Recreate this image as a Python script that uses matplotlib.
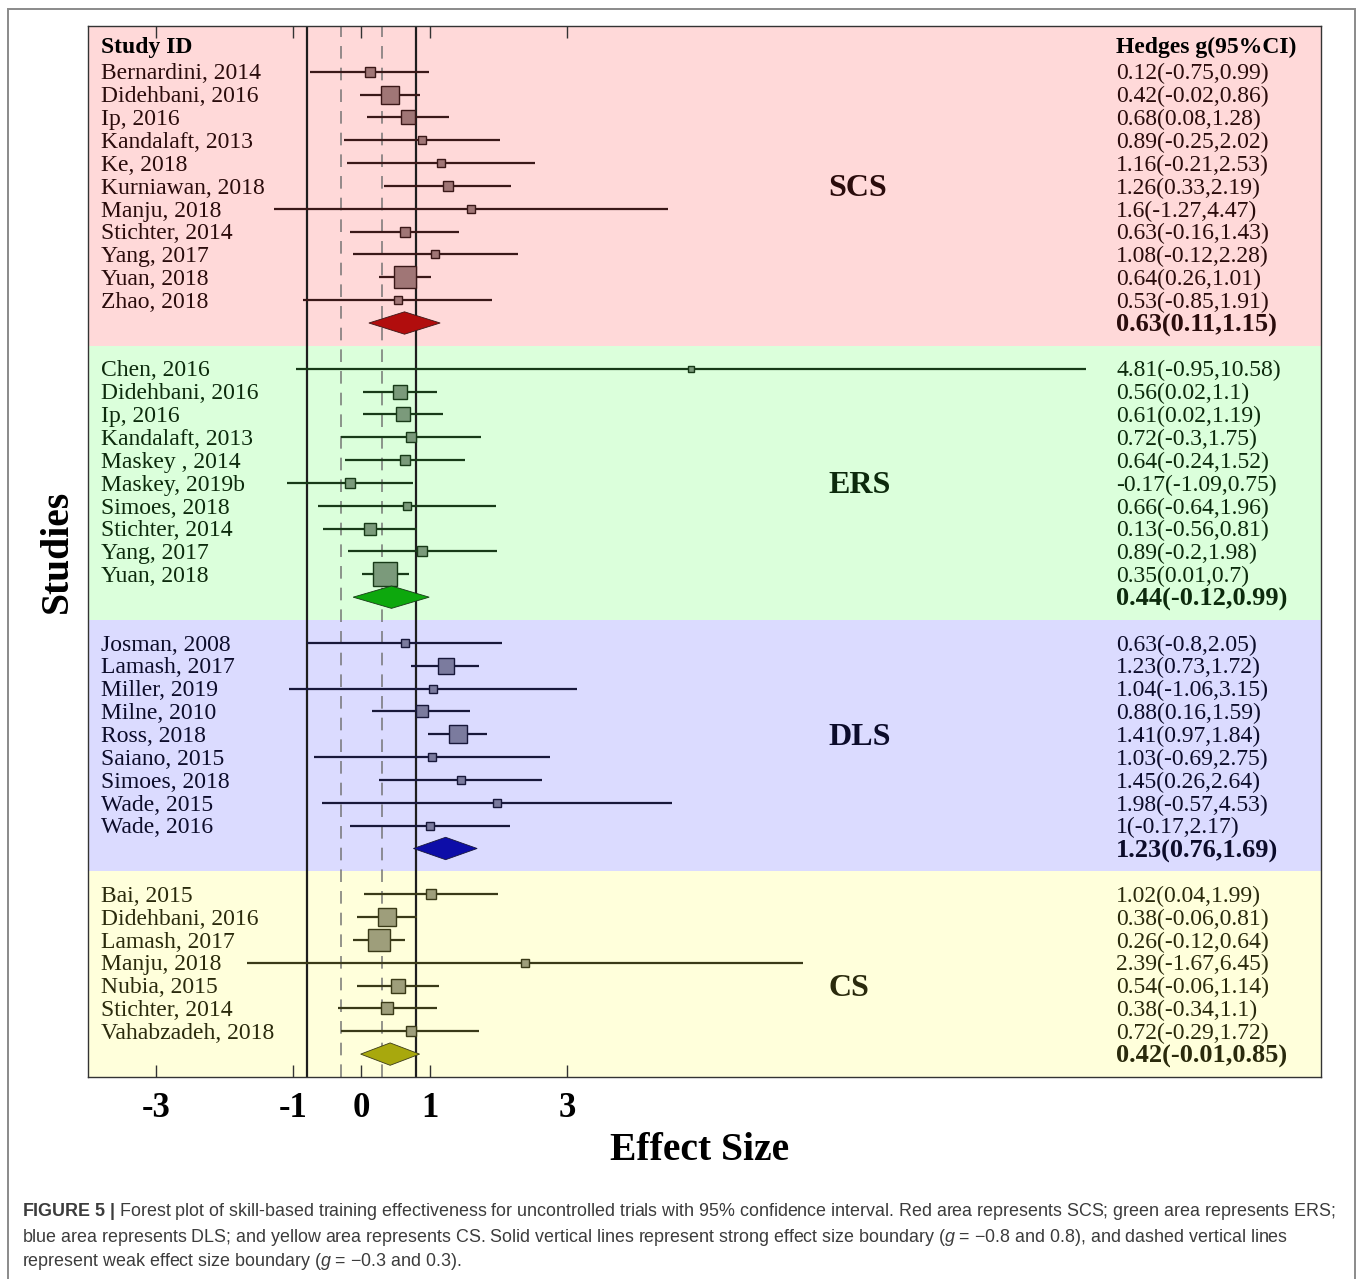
import matplotlib
matplotlib.use("Agg")
import matplotlib.pyplot as plt
from matplotlib import font_manager
from matplotlib.patches import Polygon, Rectangle

# ---------------- data ----------------
scs_studies = ["Bernardini, 2014", "Didehbani, 2016", "Ip, 2016", "Kandalaft, 2013",
               "Ke, 2018", "Kurniawan, 2018", "Manju, 2018", "Stichter, 2014",
               "Yang, 2017", "Yuan, 2018", "Zhao, 2018"]
scs_g = [0.12, 0.42, 0.68, 0.89, 1.16, 1.26, 1.6, 0.63, 1.08, 0.64, 0.53]
scs_lo = [-0.75, -0.02, 0.08, -0.25, -0.21, 0.33, -1.27, -0.16, -0.12, 0.26, -0.85]
scs_hi = [0.99, 0.86, 1.28, 2.02, 2.53, 2.19, 4.47, 1.43, 2.28, 1.01, 1.91]
scs_weight = [8.7, 17.7, 12.7, 8.3, 8.0, 9.0, 7.0, 10.0, 8.3, 21.7, 8.0]
scs_pooled = [0.63, 0.11, 1.15]

ers_studies = ["Chen, 2016", "Didehbani, 2016", "Ip, 2016", "Kandalaft, 2013",
               "Maskey , 2014", "Maskey, 2019b", "Simoes, 2018", "Stichter, 2014",
               "Yang, 2017", "Yuan, 2018"]
ers_g = [4.81, 0.56, 0.61, 0.72, 0.64, -0.17, 0.66, 0.13, 0.89, 0.35]
ers_lo = [-0.95, 0.02, 0.02, -0.3, -0.24, -1.09, -0.64, -0.56, -0.2, 0.01]
ers_hi = [10.58, 1.1, 1.19, 1.75, 1.52, 0.75, 1.96, 0.81, 1.98, 0.7]
ers_weight = [6.0, 14.0, 13.3, 9.0, 10.0, 9.3, 8.0, 11.7, 8.7, 24.3]
ers_pooled = [0.44, -0.12, 0.99]

dls_studies = ["Josman, 2008", "Lamash, 2017", "Miller, 2019", "Milne, 2010",
               "Ross, 2018", "Saiano, 2015", "Simoes, 2018", "Wade, 2015", "Wade, 2016"]
dls_g = [0.63, 1.23, 1.04, 0.88, 1.41, 1.03, 1.45, 1.98, 1.0]
dls_lo = [-0.8, 0.73, -1.06, 0.16, 0.97, -0.69, 0.26, -0.57, -0.17]
dls_hi = [2.05, 1.72, 3.15, 1.59, 1.84, 2.75, 2.64, 4.53, 2.17]
dls_weight = [7.7, 15.7, 7.3, 11.0, 18.3, 7.7, 8.3, 8.0, 8.3]
dls_pooled = [1.23, 0.76, 1.69]

cs_studies = ["Bai, 2015", "Didehbani, 2016", "Lamash, 2017", "Manju, 2018",
              "Nubia, 2015", "Stichter, 2014", "Vahabzadeh, 2018"]
cs_g = [1.02, 0.38, 0.26, 2.39, 0.54, 0.38, 0.72]
cs_lo = [0.04, -0.06, -0.12, -1.67, -0.06, -0.34, -0.29]
cs_hi = [1.99, 0.81, 0.64, 6.45, 1.14, 1.1, 1.72]
cs_weight = [9.7, 17.7, 21.7, 7.0, 13.0, 12.0, 9.7]
cs_pooled = [0.42, -0.01, 0.85]

section_names = ["SCS", "ERS", "DLS", "CS"]
x_ticks = [-3, -1, 0, 1, 3]
strong_bounds = [-0.8, 0.8]
weak_bounds = [-0.3, 0.3]

# ---------------- styling ----------------
W, H = 1357, 1279
SERIF = "Liberation Serif"


def have_font(name):
    try:
        font_manager.findfont(font_manager.FontProperties(family=name),
                              fallback_to_default=False)
        return True
    except ValueError:
        return False


CAP_FONT = "Liberation Sans Narrow" if have_font("Liberation Sans Narrow") else "Liberation Sans"
plt.rcParams["mathtext.fontset"] = "custom"
plt.rcParams["mathtext.rm"] = CAP_FONT
plt.rcParams["mathtext.it"] = CAP_FONT + ":italic"
plt.rcParams["mathtext.bf"] = CAP_FONT + ":bold"

styles = {
    "SCS": dict(bg="#ffd9d9", box="#a07676", line="#3a1818", dia="#b10d0d", txt="#2a0c0c"),
    "ERS": dict(bg="#dbffdb", box="#7b9a7b", line="#183a18", dia="#0da80d", txt="#0c2a0c"),
    "DLS": dict(bg="#dbdbff", box="#7b7b9e", line="#18183a", dia="#0d0da8", txt="#0c0c2a"),
    "CS": dict(bg="#ffffdb", box="#9e9e7b", line="#3a3a18", dia="#a8a80d", txt="#2a2a0c"),
}

sections = [
    (scs_studies, scs_g, scs_lo, scs_hi, scs_weight, scs_pooled),
    (ers_studies, ers_g, ers_lo, ers_hi, ers_weight, ers_pooled),
    (dls_studies, dls_g, dls_lo, dls_hi, dls_weight, dls_pooled),
    (cs_studies, cs_g, cs_lo, cs_hi, cs_weight, cs_pooled),
]
label_rows = [6, 19, 30, 41]


def fmt(v):
    return f"{v:g}"


fig = plt.figure(figsize=(W / 100, H / 100), dpi=100)
fig.patch.set_facecolor("white")

# outer frame around the whole figure
fig.add_artist(Rectangle((7.5 / W, -0.02), (1355 - 7.5) / W, 1.02 - 9 / H,
                         transform=fig.transFigure, fill=False,
                         ec="#8a8a8a", lw=1.4))

ax = fig.add_axes([88 / W, 1 - 1076.5 / H, (1320.5 - 88) / W, (1076.5 - 26) / H])
ax.set_facecolor("none")
ax.set_xlim(-3.99, 14.0)
ax.set_ylim(44.98, -1.0)

TXT = 17
row = 1
band_top = -1.0
for (studies, g, lo, hi, wt, pooled), name, lrow in zip(sections, section_names, label_rows):
    st = styles[name]
    n = len(studies)
    summary_row = row + n
    ax.axhspan(band_top, summary_row + 1, color=st["bg"], zorder=0, lw=0)
    band_top = summary_row + 1
    for i in range(n):
        r = row + i
        ax.plot([lo[i], hi[i]], [r, r], color=st["line"], lw=1.6,
                solid_capstyle="butt", zorder=3)
        ax.plot([g[i]], [r], marker="s", ms=wt[i] * 0.72 + 0.5,
                mfc=st["box"], mec=st["line"], mew=1.0, zorder=4)
        ax.text(-3.80, r + 0.34, studies[i], family=SERIF, fontsize=TXT,
                color=st["txt"], va="baseline", ha="left", zorder=6)
        ax.text(11.02, r + 0.34, f"{fmt(g[i])}({fmt(lo[i])},{fmt(hi[i])})",
                family=SERIF, fontsize=TXT, color=st["txt"], va="baseline",
                ha="left", zorder=6)
    est, plo, phi = pooled
    h = 0.49
    ax.add_patch(Polygon([(plo, summary_row), (est, summary_row - h),
                          (phi, summary_row), (est, summary_row + h)],
                         closed=True, fc=st["dia"], ec=st["line"], lw=0.6, zorder=5))
    ax.text(11.02, summary_row + 0.38, f"{fmt(est)}({fmt(plo)},{fmt(phi)})",
            family=SERIF, fontsize=19, fontweight="bold", color=st["txt"],
            va="baseline", ha="left", zorder=6)
    ax.text(6.82, lrow + 0.46, name, family=SERIF, fontsize=23,
            fontweight="bold", color=st["txt"], va="baseline", ha="left", zorder=6)
    row = summary_row + 2

# column headers
ax.text(-3.80, 0.17, "Study ID", family=SERIF, fontsize=TXT, fontweight="bold",
        color="black", va="baseline", ha="left", zorder=6)
ax.text(11.02, 0.17, "Hedges g(95%CI)", family=SERIF, fontsize=TXT,
        fontweight="bold", color="black", va="baseline", ha="left", zorder=6)

# effect size boundaries
for xb in strong_bounds:
    ax.axvline(xb, color="#1e1e1e", lw=1.6, zorder=2)
for xb in weak_bounds:
    ax.axvline(xb, color="#6e6e6e", lw=1.3, alpha=0.8, zorder=2,
               dashes=(7, 5))

for sp in ax.spines.values():
    sp.set_color("#333333")
    sp.set_linewidth(1.0)
    sp.set_zorder(7)

ax.set_yticks([])
ax.set_xticks(x_ticks)
ax.set_xticklabels([str(t) for t in x_ticks])
ax.tick_params(axis="x", direction="in", length=8.6, width=1.0, color="#333333",
               top=True, bottom=True, labelsize=25, pad=11)
for lbl in ax.get_xticklabels():
    lbl.set_fontfamily(SERIF)
    lbl.set_fontweight("bold")

fig.text(700 / W, 1 - 1151 / H, "Effect Size", family=SERIF, fontsize=28.5,
         fontweight="bold", ha="center", va="center")
fig.text(57 / W, 1 - 551 / H, "Studies", family=SERIF, fontsize=28.5,
         fontweight="bold", ha="center", va="center", rotation=90)

# caption
cap_lines = [
    r"$\mathbf{FIGURE\ 5\ |}$ Forest plot of skill-based training effectiveness for uncontrolled "
    r"trials with 95% confidence interval. Red area represents SCS; green area represents ERS;",
    r"blue area represents DLS; and yellow area represents CS. Solid vertical lines represent "
    r"strong effect size boundary ($g$ = −0.8 and 0.8), and dashed vertical lines",
    r"represent weak effect size boundary ($g$ = −0.3 and 0.3).",
]
cap_y = [1212, 1237, 1262]
cap_texts = [fig.text(22 / W, 1 - y / H, s, family=CAP_FONT, fontsize=12,
                      color="#3c3c3c", ha="left", va="center")
             for s, y in zip(cap_lines, cap_y)]
renderer = fig.canvas.get_renderer()
w0 = cap_texts[0].get_window_extent(renderer).width
size = 12 * (1313 / w0)
for t in cap_texts:
    t.set_fontsize(size)

fig.savefig("out.png", dpi=100)
